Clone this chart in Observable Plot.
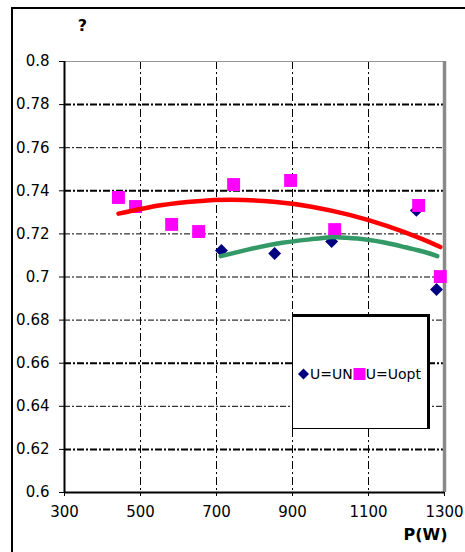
<!DOCTYPE html>
<html>
<head>
<meta charset="utf-8">
<script src="https://cdn.jsdelivr.net/npm/d3@7"></script>
<script src="https://cdn.jsdelivr.net/npm/@observablehq/plot@0.6"></script>
<style>
  html, body { margin: 0; padding: 0; background: #fff; }
  #wrap { position: relative; width: 465px; height: 552px; overflow: hidden; font-family: "DejaVu Sans", sans-serif; }
  #outer { position: absolute; left: 11px; top: 7px; width: 470px; height: 560px; border-left: 2px solid #000; border-top: 2px solid #000; box-sizing: border-box; pointer-events: none; }
  #legend { position: absolute; left: 292px; top: 314px; width: 138px; height: 115px; background: #fff; border: 1.5px solid #000; border-top-width: 3px; border-right-width: 3px; box-sizing: border-box; overflow: hidden; font-size: 14px; }
  #legend .row { position: absolute; left: 4px; top: 49px; white-space: nowrap; display: flex; align-items: center; color: #000; }
  #legend svg { display: block; }
</style>
</head>
<body>
<div id="wrap">
  <div id="chart"></div>
  <div id="outer"></div>
  <div id="legend"><div class="row" id="legrow"></div></div>
</div>
<script>
// ---- data ----
const unP   = [713, 853, 1003, 1226, 1279];
const unEta = [0.7123, 0.7109, 0.7165, 0.7309, 0.6942];

const optP   = [442, 487, 582, 653, 745, 895, 1011, 1232, 1289];
const optEta = [0.7369, 0.7327, 0.7244, 0.7211, 0.7429, 0.7448, 0.7220, 0.7332, 0.7002];

// trendlines
const redTrendP   = [442, 553, 650, 740, 850, 950, 1050, 1150, 1237, 1289];
const redTrendEta = [0.7294, 0.7333, 0.7352, 0.7358, 0.7349, 0.7326, 0.7288, 0.7236, 0.7179, 0.7139];
const greenTrendP   = [711, 785, 873, 960, 1000, 1039, 1092, 1145, 1197, 1250, 1281];
const greenTrendEta = [0.7097, 0.7128, 0.7159, 0.7177, 0.7185, 0.7182, 0.7174, 0.7159, 0.7138, 0.7115, 0.7097];

const xTicks = [300, 500, 700, 900, 1100, 1300];
const xTickLabels = ["300", "500", "700", "900", "1100", "1300"];
const yTicks = [0.6, 0.62, 0.64, 0.66, 0.68, 0.7, 0.72, 0.74, 0.76, 0.78, 0.8];
const yTickLabels = ["0.6", "0.62", "0.64", "0.66", "0.68", "0.7", "0.72", "0.74", "0.76", "0.78", "0.8"];
const boldGridValues = [0.62, 0.66, 0.74, 0.78];

const seriesNames = ["U=UN", "U=Uopt"];
const title = "?";
const xTitle = "P(W)";

// ---- build tables ----
const un = unP.map((p, i) => ({p, eta: unEta[i]}));
const opt = optP.map((p, i) => ({p, eta: optEta[i]}));
const redTrend = redTrendP.map((p, i) => ({p, eta: redTrendEta[i]}));
const greenTrend = greenTrendP.map((p, i) => ({p, eta: greenTrendEta[i]}));
const yLabelOf = new Map(yTicks.map((v, i) => [v, yTickLabels[i]]));
const xLabelOf = new Map(xTicks.map((v, i) => [v, xTickLabels[i]]));
const innerY = yTicks.slice(1, -1);
const innerX = xTicks.slice(1, -1);

const navy = "#000080", magenta = "#ff00ff", red = "#ff0000", green = "#339966";

const chart = Plot.plot({
  width: 465,
  height: 552,
  marginLeft: 64,
  marginRight: 21,
  marginTop: 61,
  marginBottom: 60,
  style: {fontFamily: "DejaVu Sans, sans-serif", fontSize: "15px", background: "#fff", color: "#000", overflow: "visible"},
  x: {domain: [300, 1300], ticks: xTicks},
  y: {domain: [0.6, 0.8], ticks: yTicks},
  marks: [
    // grid
    Plot.ruleY(innerY.filter(v => !boldGridValues.includes(v)), {stroke: "#000", strokeWidth: 1, strokeDasharray: "6,2,2,2"}),
    Plot.ruleY(boldGridValues, {stroke: "#000", strokeWidth: 2, strokeDasharray: "7,2,2,2"}),
    Plot.ruleX(innerX, {stroke: "#000", strokeWidth: 1, strokeDasharray: "8,3,2,3"}),
    // plot area border
    Plot.ruleY([0.8], {stroke: "#999", strokeWidth: 1}),
    Plot.ruleX([1300], {stroke: "#8a8a8a", strokeWidth: 3.5}),
    Plot.ruleX([300], {stroke: "#000", strokeWidth: 2}),
    Plot.ruleY([0.6], {stroke: "#000", strokeWidth: 2}),
    // axes
    Plot.axisY({ticks: yTicks, tickFormat: d => yLabelOf.get(d), tickSize: 5, tickPadding: 10, label: null, fontSize: 15}),
    Plot.axisX({ticks: xTicks, tickFormat: d => xLabelOf.get(d), tickSize: 4, tickPadding: 10, label: null, fontSize: 15}),
    // data points
    Plot.dot(un, {x: "p", y: "eta", symbol: "diamond2", r: 5.8, fill: navy, stroke: "none"}),
    Plot.dot(opt, {x: "p", y: "eta", symbol: "square", r: 7.3, fill: magenta, stroke: "none"}),
    // trendlines
    Plot.line(redTrend, {x: "p", y: "eta", stroke: red, strokeWidth: 4.5, curve: "natural"}),
    Plot.line(greenTrend, {x: "p", y: "eta", stroke: green, strokeWidth: 4.5, curve: "natural"}),
    // titles
    Plot.text([title], {frameAnchor: "top-left", dx: 18, dy: -42, text: d => d, fontWeight: "bold", fontSize: 16, textAnchor: "middle"}),
    Plot.text([xTitle], {frameAnchor: "bottom-right", dx: 3, dy: 47, text: d => d, fontWeight: "bold", fontSize: 16, textAnchor: "end"})
  ]
});
document.getElementById("chart").appendChild(chart);

// legend (HTML overlay)
const row = document.getElementById("legrow");
const sym = (shape, color) => {
  const s = d3.create("svg").attr("width", 13).attr("height", 14);
  if (shape === "diamond") s.append("path").attr("d", "M6.5,1.5L12,7L6.5,12.5L1,7Z").attr("fill", color);
  else s.append("rect").attr("x", 0.5).attr("y", 1).attr("width", 12).attr("height", 12).attr("fill", color);
  return s.node();
};
[["diamond", navy, seriesNames[0]], ["square", magenta, seriesNames[1]]].forEach(([shape, color, name]) => {
  const item = document.createElement("span");
  item.style.display = "flex"; item.style.alignItems = "center";
  item.appendChild(sym(shape, color));
  const t = document.createElement("span"); t.textContent = name;
  item.appendChild(t);
  row.appendChild(item);
});
</script>
</body>
</html>
